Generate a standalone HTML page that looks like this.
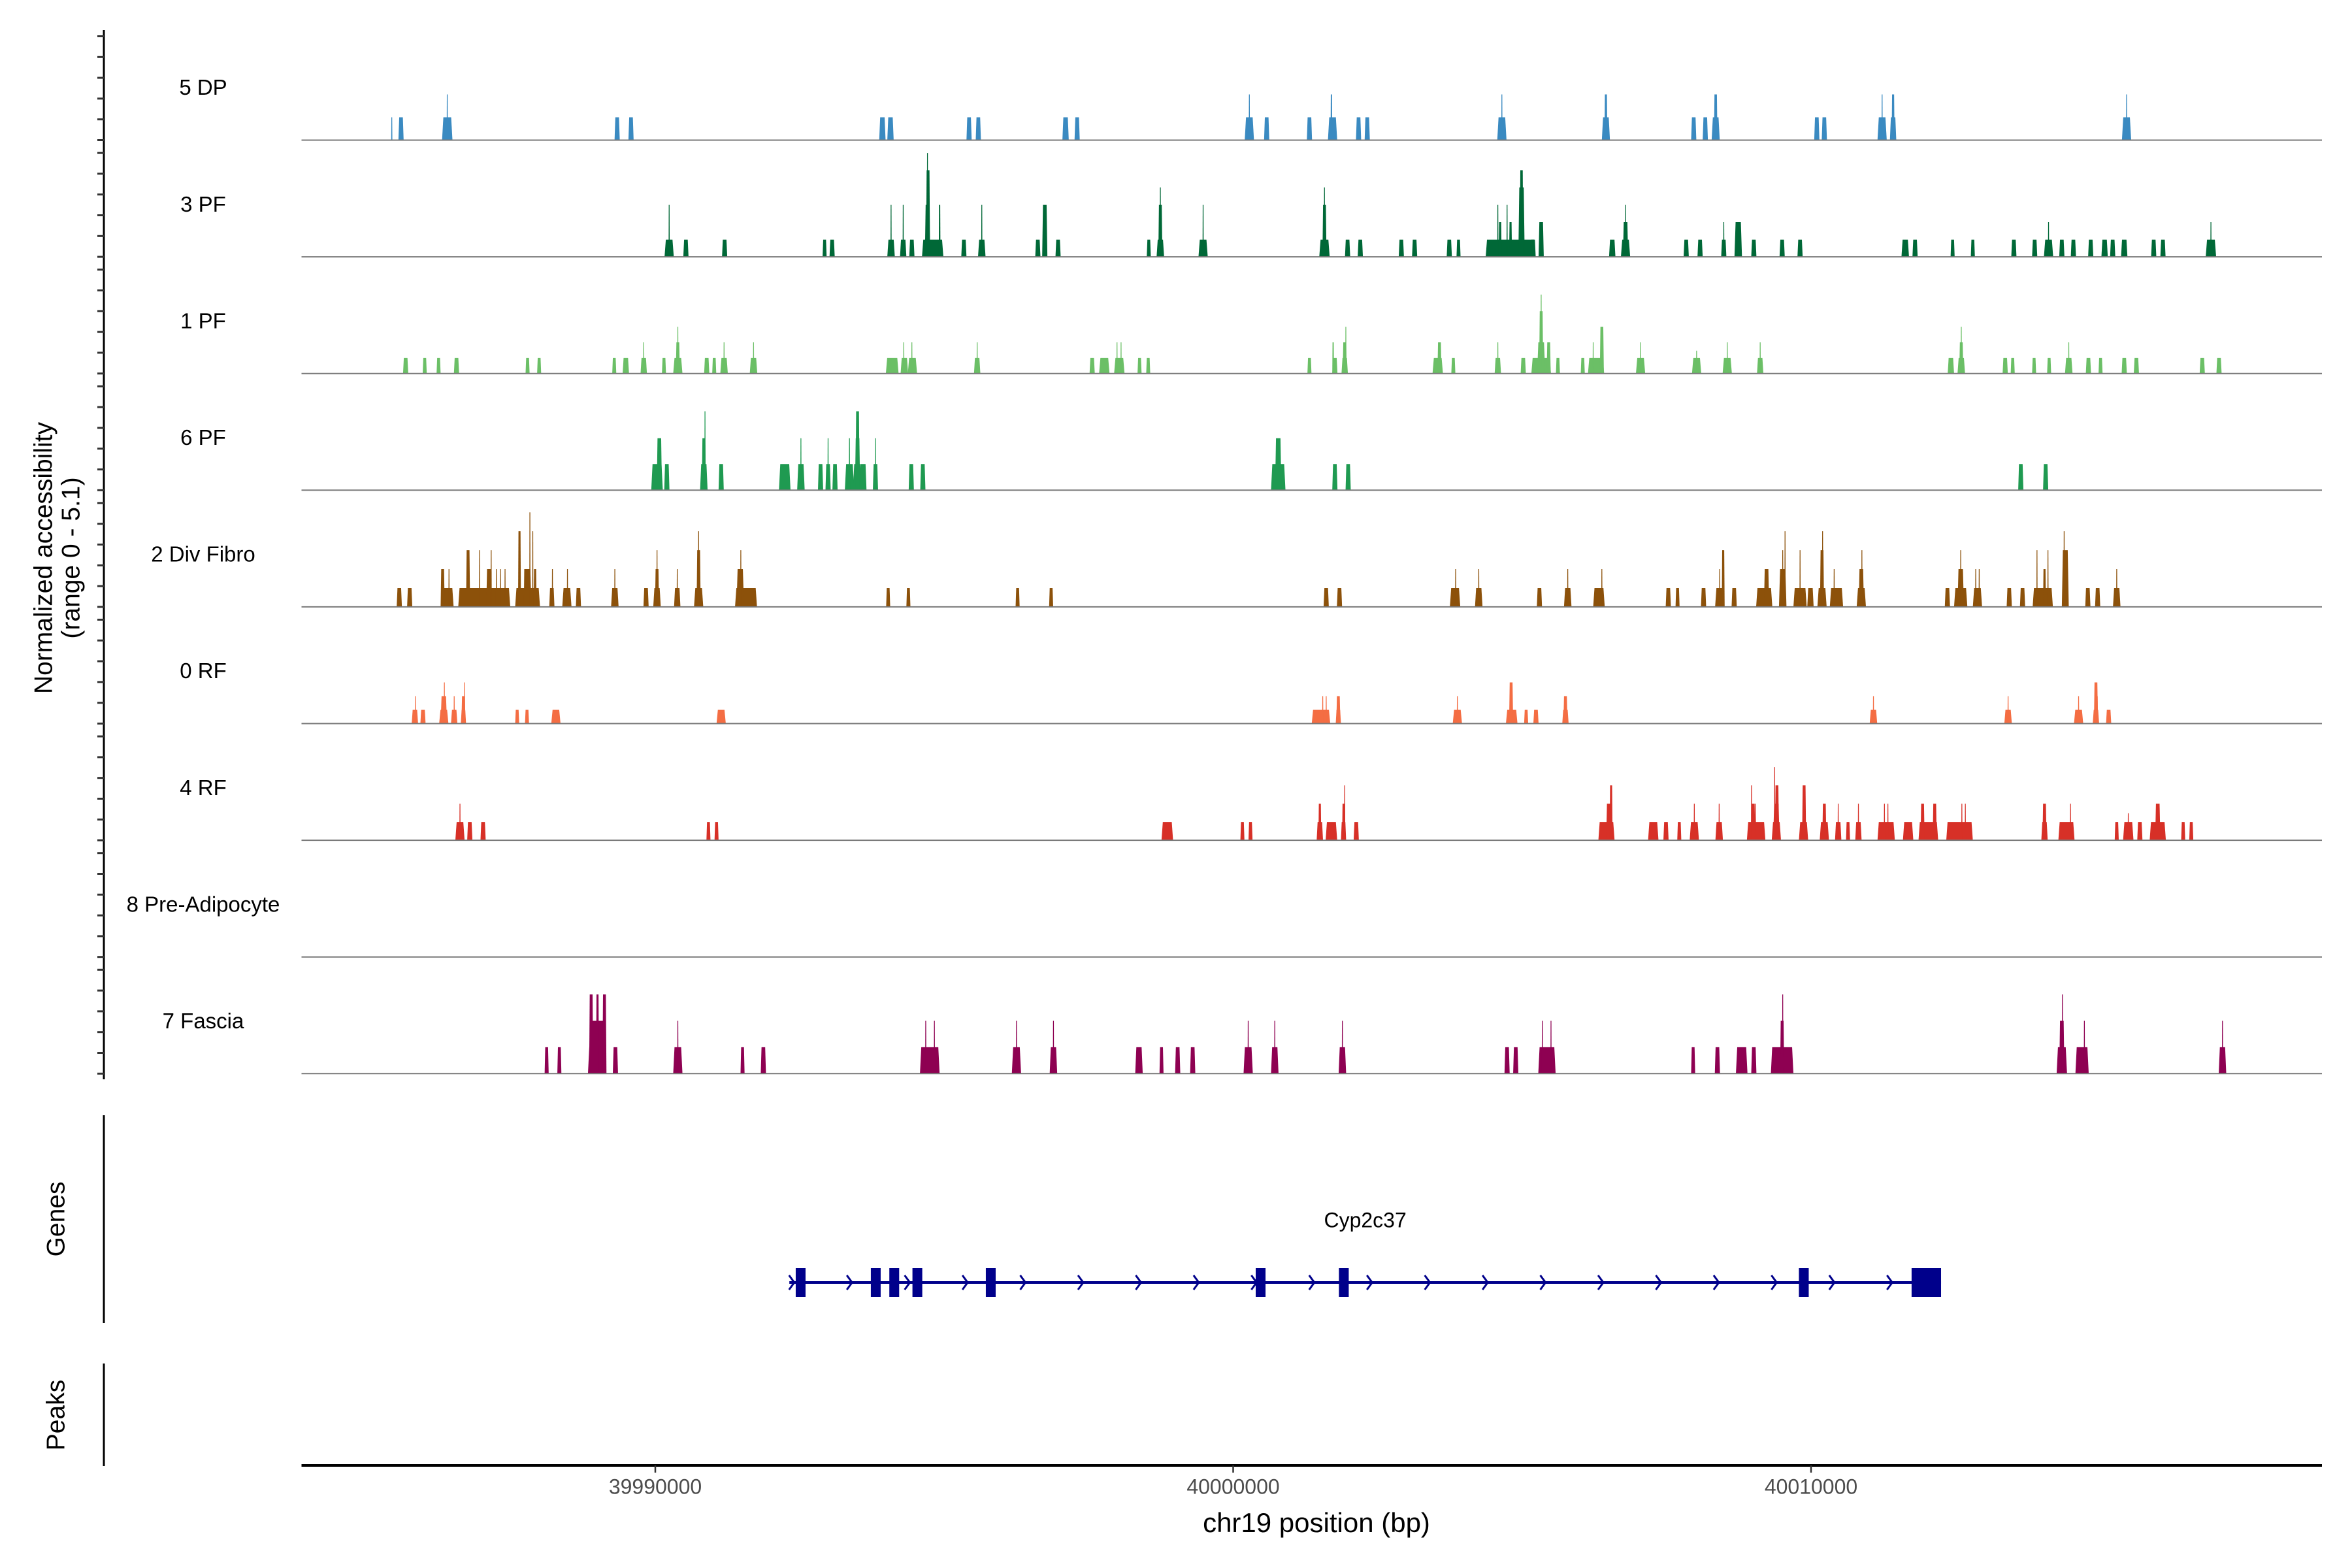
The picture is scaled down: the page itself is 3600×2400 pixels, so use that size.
<!DOCTYPE html>
<html><head><meta charset="utf-8"><title>Coverage plot chr19</title>
<style>html,body{margin:0;padding:0;background:#fff;}svg{display:block;font-family:"Liberation Sans",Arial,sans-serif;}</style>
</head><body>
<svg id="chart" width="3600" height="2400" viewBox="0 0 3600 2400" xmlns="http://www.w3.org/2000/svg">
<rect x="0" y="0" width="3600" height="2400" fill="#fff"/>
<g id="yaxis"></g>
<text transform="translate(69,854) rotate(-90)" text-anchor="middle" dominant-baseline="middle" font-size="39" fill="#000">Normalized accessibility</text>
<text transform="translate(111,854) rotate(-90)" text-anchor="middle" dominant-baseline="middle" font-size="39" fill="#000">(range 0 - 5.1)</text>
<g id="tracks"></g>
<line x1="159" y1="1707" x2="159" y2="2025" stroke="#000" stroke-width="3"/>
<text transform="translate(88,1866) rotate(-90)" text-anchor="middle" dominant-baseline="middle" font-size="39" fill="#000">Genes</text>
<line x1="159" y1="2087" x2="159" y2="2244" stroke="#000" stroke-width="3"/>
<text transform="translate(88,2166) rotate(-90)" text-anchor="middle" dominant-baseline="middle" font-size="39" fill="#000">Peaks</text>
<g id="gene"></g>
<g id="xaxis"></g>
<text x="2015" y="2334" text-anchor="middle" dominant-baseline="middle" font-size="42" fill="#000">chr19 position (bp)</text>
</svg>
<script>
// ---- data (positions in kb on chr19, values in normalized accessibility) ----
const trackNames = ["5 DP","3 PF","1 PF","6 PF","2 Div Fibro","0 RF","4 RF","8 Pre-Adipocyte","7 Fascia"];
const trackColors = ["#3a8ac1","#006837","#6bbf66","#1f9a51","#8c510a","#f46d43","#d73027","#999999","#8e0152"];
const xTicks = [39990000, 40000000, 40010000];
const xTickLabels = ["39990000","40000000","40010000"];
const yTickValues = [0,1,2,3,4,5];
const geneName = "Cyp2c37";
const geneStart = 39992.32;
const geneEnd = 40012.25;
const geneExonStarts = [39992.43,39993.73,39994.05,39994.45,39995.72,40000.39,40001.83,40009.79,40011.74];
const geneExonEnds = [39992.60,39993.90,39994.22,39994.62,39995.89,40000.56,40002.00,40009.96,40012.25];

const dp5 = [[39985.44,.02,1.1],[39985.60,.09,1.1],[39986.40,.18,1.1],[39986.40,.02,2.2],[39989.34,.09,1.1],[39989.58,.09,1.1],[39993.93,.11,1.1],[39994.07,.11,1.1],[39995.43,.09,1.1],[39995.59,.09,1.1],[39997.10,.11,1.1],[39997.30,.09,1.1],[40000.28,.16,1.1],[40000.28,.02,2.2],[40000.58,.09,1.1],[40001.32,.09,1.1],[40001.72,.16,1.1],[40001.70,.03,2.2],[40002.17,.09,1.1],[40002.32,.09,1.1],[40004.65,.16,1.1],[40004.65,.02,2.2],[40006.45,.14,1.1],[40006.45,.05,2.2],[40007.97,.09,1.1],[40008.17,.09,1.1],[40008.35,.14,1.1],[40008.35,.06,2.2],[40010.10,.09,1.1],[40010.23,.09,1.1],[40011.23,.16,1.1],[40011.23,.02,2.2],[40011.42,.11,1.1],[40011.42,.05,2.2],[40015.46,.16,1.1],[40015.46,.02,2.2]];
const pf3 = [[39990.24,.16,.83],[39990.24,.02,2.5],[39990.53,.09,.83],[39991.20,.09,.83],[39992.93,.07,.83],[39993.06,.09,.83],[39994.08,.13,.83],[39994.08,.02,2.5],[39994.29,.11,.83],[39994.29,.02,2.5],[39994.44,.09,.83],[39994.80,.37,.83],[39994.71,.09,2.5],[39994.72,.07,4.17],[39994.71,.02,5.0],[39994.92,.03,2.5],[39995.34,.09,.83],[39995.65,.13,.83],[39995.65,.02,2.5],[39996.62,.09,.83],[39996.74,.09,2.5],[39996.97,.09,.83],[39998.54,.07,.83],[39998.74,.13,.83],[39998.74,.07,2.5],[39998.74,.02,3.34],[39999.48,.16,.83],[39999.48,.02,2.5],[40001.58,.18,.83],[40001.58,.07,2.5],[40001.58,.02,3.34],[40001.98,.09,.83],[40002.20,.09,.83],[40002.91,.09,.83],[40003.14,.09,.83],[40003.74,.09,.83],[40003.90,.07,.83],[40004.80,.86,.83],[40004.58,.02,2.5],[40004.62,.05,1.67],[40004.74,.02,2.5],[40004.80,.05,1.67],[40004.99,.11,3.34],[40004.99,.06,4.17],[40005.19,.09,.83],[40005.33,.09,1.67],[40006.56,.11,.83],[40006.79,.16,.83],[40006.79,.09,1.67],[40006.79,.02,2.5],[40007.84,.09,.83],[40008.08,.09,.83],[40008.49,.09,.83],[40008.49,.02,1.67],[40008.74,.13,1.67],[40009.01,.09,.83],[40009.50,.09,.83],[40009.81,.09,.83],[40011.63,.13,.83],[40011.80,.09,.83],[40012.45,.07,.83],[40012.80,.07,.83],[40013.51,.09,.83],[40013.87,.09,.83],[40014.11,.16,.83],[40014.11,.02,1.67],[40014.34,.09,.83],[40014.54,.09,.83],[40014.84,.09,.83],[40015.08,.11,.83],[40015.22,.09,.83],[40015.42,.11,.83],[40015.93,.09,.83],[40016.09,.09,.83],[40016.92,.18,.83],[40016.92,.02,1.67]];
const pf1 = [[39985.68,.09,.75],[39986.01,.07,.75],[39986.25,.07,.75],[39986.56,.09,.75],[39987.79,.07,.75],[39987.99,.07,.75],[39989.29,.07,.75],[39989.49,.11,.75],[39989.80,.11,.75],[39989.80,.02,1.5],[39990.15,.07,.75],[39990.39,.16,.75],[39990.39,.07,1.5],[39990.39,.02,2.25],[39990.89,.09,.75],[39991.02,.07,.75],[39991.19,.13,.75],[39991.19,.02,1.5],[39991.70,.13,.75],[39991.70,.02,1.5],[39994.10,.22,.75],[39994.31,.13,.75],[39994.30,.02,1.5],[39994.45,.16,.75],[39994.44,.02,1.5],[39995.57,.11,.75],[39995.57,.02,1.5],[39997.56,.09,.75],[39997.77,.18,.75],[39998.03,.18,.75],[39997.99,.02,1.5],[39998.06,.02,1.5],[39998.38,.07,.75],[39998.53,.07,.75],[40001.32,.07,.75],[40001.76,.09,.75],[40001.73,.03,1.5],[40001.93,.11,.75],[40001.93,.07,1.5],[40001.95,.02,2.25],[40003.54,.18,.75],[40003.57,.07,1.5],[40003.81,.07,.75],[40004.58,.11,.75],[40004.58,.02,1.5],[40005.02,.09,.75],[40005.33,.34,.75],[40005.33,.14,1.5],[40005.33,.07,3.0],[40005.33,.02,3.8],[40005.46,.07,1.5],[40005.62,.07,.75],[40006.05,.07,.75],[40006.28,.28,.75],[40006.23,.02,1.5],[40006.38,.07,2.25],[40007.05,.16,.75],[40007.05,.02,1.5],[40008.02,.16,.75],[40008.02,.02,1.1],[40008.55,.16,.75],[40008.55,.02,1.5],[40009.12,.11,.75],[40009.12,.02,1.5],[40012.42,.11,.75],[40012.60,.13,.75],[40012.60,.07,1.5],[40012.60,.02,2.25],[40013.36,.09,.75],[40013.49,.07,.75],[40013.86,.07,.75],[40014.12,.07,.75],[40014.46,.13,.75],[40014.46,.02,1.5],[40014.80,.09,.75],[40015.01,.07,.75],[40015.42,.09,.75],[40015.63,.09,.75],[40016.77,.09,.75],[40017.06,.09,.75]];
const pf6 = [[39990.03,.2,1.26],[39990.07,.09,2.5],[39990.20,.09,1.26],[39990.84,.13,1.26],[39990.84,.07,2.5],[39990.86,.02,3.8],[39991.14,.09,1.26],[39992.24,.2,1.26],[39992.52,.13,1.26],[39992.52,.02,2.5],[39992.86,.09,1.26],[39992.99,.09,1.26],[39992.99,.02,2.5],[39993.11,.09,1.26],[39993.36,.16,1.26],[39993.36,.02,2.5],[39993.50,.16,1.26],[39993.50,.09,2.5],[39993.50,.07,3.8],[39993.60,.11,1.26],[39993.81,.09,1.26],[39993.81,.02,2.5],[39994.43,.09,1.26],[39994.63,.09,1.26],[40000.78,.25,1.26],[40000.78,.11,2.5],[40001.76,.09,1.26],[40001.99,.09,1.26],[40013.63,.09,1.26],[40014.06,.09,1.26]];
const divFibro = [[39985.57,.09,.91],[39985.75,.09,.91],[39986.40,.22,.91],[39987.04,.9,.91],[39986.32,.07,1.82],[39986.43,.02,1.82],[39986.76,.07,2.73],[39986.96,.02,2.73],[39987.12,.09,1.82],[39987.16,.02,2.73],[39987.25,.02,1.82],[39987.32,.02,1.82],[39987.40,.02,1.82],[39987.79,.43,.91],[39987.65,.05,3.64],[39987.75,.05,1.82],[39987.80,.11,1.82],[39987.83,.02,4.55],[39987.88,.02,3.64],[39987.92,.05,1.82],[39988.21,.09,.91],[39988.22,.02,1.82],[39988.47,.16,.91],[39988.48,.02,1.82],[39988.67,.09,.91],[39989.30,.13,.91],[39989.30,.02,1.82],[39989.84,.09,.91],[39990.03,.13,.91],[39990.03,.07,1.82],[39990.03,.02,2.73],[39990.38,.11,.91],[39990.38,.02,1.82],[39990.75,.16,.91],[39990.75,.07,2.73],[39990.75,.02,3.64],[39991.57,.38,.91],[39991.47,.13,1.82],[39991.48,.02,2.73],[39994.03,.07,.91],[39994.38,.07,.91],[39996.27,.07,.91],[39996.85,.07,.91],[40001.61,.09,.91],[40001.84,.09,.91],[40003.84,.18,.91],[40003.85,.02,1.82],[40004.25,.13,.91],[40004.25,.02,1.82],[40005.30,.09,.91],[40005.79,.13,.91],[40005.79,.02,1.82],[40006.33,.2,.91],[40006.38,.02,1.82],[40007.53,.09,.91],[40007.69,.07,.91],[40008.14,.09,.91],[40008.42,.16,.91],[40008.42,.02,1.82],[40008.48,.05,2.73],[40008.67,.09,.91],[40009.19,.28,.91],[40009.23,.09,1.82],[40009.51,.13,1.82],[40009.51,.02,2.73],[40009.55,.02,3.64],[40009.81,.23,.91],[40009.81,.02,2.73],[40009.99,.11,.91],[40010.19,.16,.91],[40010.19,.07,2.73],[40010.20,.02,3.64],[40010.44,.23,.91],[40010.40,.02,1.82],[40010.87,.16,.91],[40010.87,.09,1.82],[40010.88,.02,2.73],[40012.36,.09,.91],[40012.59,.23,.91],[40012.59,.11,1.82],[40012.59,.02,2.73],[40012.88,.16,.91],[40012.85,.02,1.82],[40012.91,.02,1.82],[40013.43,.09,.91],[40013.66,.09,.91],[40014.01,.35,.91],[40013.91,.02,2.73],[40014.04,.05,1.82],[40014.10,.02,2.73],[40014.40,.12,2.73],[40014.38,.02,3.64],[40014.79,.09,.91],[40014.96,.09,.91],[40015.29,.13,.91],[40015.29,.02,1.82]];
const rf0 = [[39985.84,.11,.66],[39985.85,.02,1.32],[39985.98,.09,.66],[39986.34,.16,.66],[39986.34,.11,1.32],[39986.35,.02,1.98],[39986.52,.11,.66],[39986.52,.02,1.32],[39986.68,.09,.66],[39986.68,.07,1.32],[39986.70,.02,1.98],[39987.61,.07,.66],[39987.78,.07,.66],[39988.28,.16,.66],[39991.14,.16,.66],[40001.52,.32,.66],[40001.55,.02,1.32],[40001.61,.02,1.32],[40001.82,.09,.66],[40001.82,.07,1.32],[40003.88,.16,.66],[40003.88,.02,1.32],[40004.82,.2,.66],[40004.81,.07,1.98],[40005.07,.07,.66],[40005.24,.09,.66],[40005.75,.11,.66],[40005.75,.07,1.32],[40011.08,.13,.66],[40011.08,.02,1.32],[40013.41,.13,.66],[40013.41,.02,1.32],[40014.63,.16,.66],[40014.63,.02,1.32],[40014.93,.11,.66],[40014.93,.07,1.98],[40014.95,.03,1.32],[40015.15,.09,.66]];
const rf4 = [[39986.62,.16,.88],[39986.62,.02,1.76],[39986.79,.09,.88],[39987.02,.09,.88],[39990.92,.07,.88],[39991.06,.07,.88],[39998.86,.2,.88],[40000.16,.07,.88],[40000.30,.07,.88],[40001.50,.11,.88],[40001.50,.05,1.76],[40001.70,.2,.88],[40001.91,.09,.88],[40001.91,.05,1.76],[40001.93,.02,2.64],[40002.13,.09,.88],[40006.46,.28,.88],[40006.50,.09,1.76],[40006.54,.05,2.64],[40007.27,.18,.88],[40007.49,.09,.88],[40007.72,.07,.88],[40007.98,.16,.88],[40007.98,.02,1.76],[40008.41,.13,.88],[40008.41,.02,1.76],[40009.05,.32,.88],[40009.00,.07,1.76],[40009.04,.02,1.76],[40008.97,.02,2.64],[40009.40,.16,.88],[40009.40,.11,1.76],[40009.41,.07,2.64],[40009.37,.02,3.52],[40009.87,.16,.88],[40009.88,.07,2.64],[40010.23,.16,.88],[40010.23,.07,1.76],[40010.47,.11,.88],[40010.47,.02,1.76],[40010.64,.07,.88],[40010.82,.11,.88],[40010.82,.02,1.76],[40011.30,.3,.88],[40011.27,.02,1.76],[40011.33,.02,1.76],[40011.68,.18,.88],[40012.03,.34,.88],[40011.93,.07,1.76],[40012.14,.07,1.76],[40012.57,.46,.88],[40012.61,.02,1.76],[40012.67,.02,1.76],[40014.04,.11,.88],[40014.04,.07,1.76],[40014.42,.28,.88],[40014.49,.02,1.76],[40015.29,.07,.88],[40015.49,.18,.88],[40015.49,.02,1.3],[40015.69,.09,.88],[40016.00,.28,.88],[40016.00,.09,1.76],[40016.44,.07,.88],[40016.58,.07,.88]];
const preAdipocyte = [];
const fascia = [[39988.12,.07,1.27],[39988.34,.07,1.27],[39988.99,.31,1.27],[39988.99,.28,2.54],[39988.89,.07,3.81],[39989.00,.05,3.81],[39989.12,.07,3.81],[39989.31,.09,1.27],[39990.39,.16,1.27],[39990.39,.02,2.54],[39991.51,.07,1.27],[39991.87,.09,1.27],[39994.75,.34,1.27],[39994.68,.02,2.54],[39994.83,.02,2.54],[39996.25,.16,1.27],[39996.25,.02,2.54],[39996.89,.13,1.27],[39996.89,.02,2.54],[39998.37,.13,1.27],[39998.76,.07,1.27],[39999.04,.09,1.27],[39999.30,.09,1.27],[40000.26,.16,1.27],[40000.26,.02,2.54],[40000.72,.13,1.27],[40000.72,.02,2.54],[40001.89,.13,1.27],[40001.89,.02,2.54],[40004.74,.09,1.27],[40004.89,.09,1.27],[40005.43,.3,1.27],[40005.35,.02,2.54],[40005.50,.02,2.54],[40007.96,.07,1.27],[40008.38,.09,1.27],[40008.80,.2,1.27],[40009.01,.09,1.27],[40009.50,.39,1.27],[40009.50,.07,2.54],[40009.51,.02,3.81],[40014.34,.18,1.27],[40014.34,.09,2.54],[40014.35,.02,3.81],[40014.69,.23,1.27],[40014.73,.02,2.54],[40017.12,.13,1.27],[40017.12,.02,2.54]];
const trackData = [dp5, pf3, pf1, pf6, divFibro, rf0, rf4, preAdipocyte, fascia];

// ---- scales ----
const NS = "http://www.w3.org/2000/svg";
const X0 = 461.5, X1 = 3554, KBREF = 39990, XREF = 1003, PXPERKB = 88.45;
function xScale(kb){ return XREF + (kb - KBREF) * PXPERKB; }
const BASE0 = 214.5, TRACKSTEP = 178.6, PXPERUNIT = 31.8;
function baseY(i){ return BASE0 + i * TRACKSTEP; }
function yScale(i, v){ return baseY(i) - v * PXPERUNIT; }
function mk(tag, attrs, parent){
  const el = document.createElementNS(NS, tag);
  for (const k in attrs) el.setAttribute(k, attrs[k]);
  parent.appendChild(el);
  return el;
}

// ---- y axis ----
const yAxis = document.getElementById('yaxis');
const yLine = mk('line', {x1:159, y1:46, x2:159, y2:1652, stroke:'#000', 'stroke-width':3}, yAxis);


trackNames.forEach((n, i) => {
  yTickValues.forEach(v => {
    const y = yScale(i, v);
    const t = mk('line', {x1:149, y1:y, x2:159, y2:y, stroke:'#333', 'stroke-width':3}, yAxis);
    
    
  });
});

// ---- tracks ----
const tracksG = document.getElementById('tracks');
trackNames.forEach((name, i) => {
  const g = mk('g', {}, tracksG);
  
  
  const lab = mk('text', {x:311, y:baseY(i) - 78, 'text-anchor':'middle', 'dominant-baseline':'middle', 'font-size':33, fill:'#000'}, g);
  lab.textContent = name;
  
  
  trackData[i].forEach(p => {
    const xa = xScale(p[0] - p[1] / 2), xb = xScale(p[0] + p[1] / 2);
    const w = xb - xa, t = Math.min(2, w * 0.15);
    const b = baseY(i), top = yScale(i, p[2]);
    const poly = mk('polygon', {points: xa + ',' + b + ' ' + (xa + t) + ',' + top + ' ' + (xb - t) + ',' + top + ' ' + xb + ',' + b, fill: trackColors[i]}, g);
    
    
  });
  const bl = mk('line', {x1:X0, y1:baseY(i), x2:X1, y2:baseY(i), stroke:'#7a7a7a', 'stroke-width':2}, g);
  
  
});

// ---- gene ----
const geneG = document.getElementById('gene');
const GY = 1963;
const gl = mk('line', {x1:xScale(geneStart), y1:GY, x2:xScale(geneEnd), y2:GY, stroke:'#00008b', 'stroke-width':4}, geneG);


for (let kb = geneStart + 0.04; kb < geneEnd - 0.5; kb += 1.0) {
  const x = xScale(kb);
  const ch = mk('polyline', {points:(x - 4) + ',' + (GY - 11) + ' ' + (x + 4) + ',' + GY + ' ' + (x - 4) + ',' + (GY + 11), fill:'none', stroke:'#00008b', 'stroke-width':3}, geneG);
  
  
}
geneExonStarts.forEach((s, k) => {
  const xa = xScale(s), xb = xScale(geneExonEnds[k]);
  const ex = mk('rect', {x:xa, y:GY - 22, width:xb - xa, height:44, fill:'#00008b'}, geneG);
  
  
});
const gn = mk('text', {x:xScale((geneStart + geneEnd) / 2), y:1870, 'text-anchor':'middle', 'dominant-baseline':'middle', 'font-size':32, fill:'#000'}, geneG);
gn.textContent = geneName;



// ---- x axis ----
const xAxis = document.getElementById('xaxis');
const XAY = 2243;
const xl = mk('line', {x1:X0, y1:XAY, x2:X1, y2:XAY, stroke:'#000', 'stroke-width':4}, xAxis);


xTicks.forEach((bp, k) => {
  const x = xScale(bp / 1000);
  const tk = mk('line', {x1:x, y1:XAY, x2:x, y2:XAY + 11, stroke:'#333', 'stroke-width':2.5}, xAxis);
  
  
  const tl = mk('text', {x:x, y:2278, 'text-anchor':'middle', 'dominant-baseline':'middle', 'font-size':32, fill:'#4d4d4d'}, xAxis);
  tl.textContent = xTickLabels[k];
  
  
});
</script>
</body></html>
